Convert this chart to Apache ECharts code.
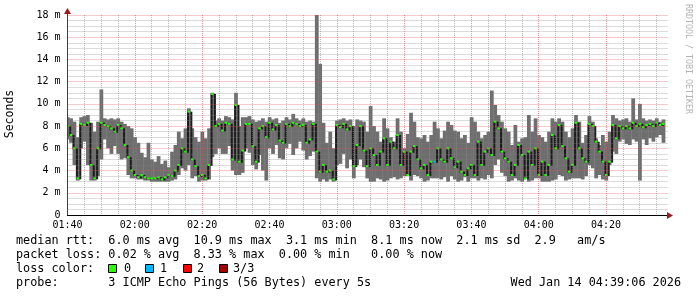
<!DOCTYPE html>
<html><head><meta charset="utf-8">
<script src="https://cdn.jsdelivr.net/npm/echarts@6/dist/echarts.min.js"></script>
<style>html,body{margin:0;padding:0;background:#fff}#c{width:697px;height:297px}</style>
</head><body><div id="c"></div>
<script>
// x tick labels (every 20 minutes from 01:40)
const xTickLabels = ['01:40','02:00','02:20','02:40','03:00','03:20','03:40','04:00','04:20'];
// y tick labels (every 2 ms)
const yTickLabels = ['0','2 m','4 m','6 m','8 m','10 m','12 m','14 m','16 m','18 m'];

// per-minute smoke range (ms) and median (ms), minute 0 = 01:40
const rttHigh = [
 8.8,8.7,8.4,7.0,8.8,8.9,9.0,8.3,7.5,8.4,
 11.3,8.7,8.6,8.7,8.6,8.7,8.4,8.2,8.0,7.8,
 7.0,6.5,5.6,5.2,6.5,5.0,4.8,5.3,4.6,4.9,
 4.3,5.7,6.3,7.5,6.9,7.8,9.6,7.8,7.0,6.6,
 7.5,6.9,7.8,11.0,8.5,8.7,8.5,8.9,8.8,8.6,
 11.0,8.0,8.8,8.8,8.9,8.6,8.4,8.5,8.7,8.4,
 8.8,8.6,8.7,8.3,8.5,8.8,8.6,9.1,8.7,8.5,
 8.7,8.4,8.5,8.4,18.0,13.6,8.3,6.5,7.5,6.0,
 8.5,8.6,8.7,8.5,8.6,8.0,8.6,8.5,8.4,7.5,
 9.8,8.0,7.5,6.6,8.7,7.8,7.0,6.6,8.7,7.5,
 6.0,7.3,9.2,8.4,7.0,6.9,7.2,6.6,7.2,8.4,
 7.8,6.9,7.6,8.4,8.1,7.6,7.5,6.9,7.2,6.5,
 8.8,8.4,7.5,6.9,7.2,7.5,11.2,9.9,9.0,8.4,
 7.8,7.5,6.3,8.1,6.6,6.9,7.0,9.0,7.5,8.7,
 7.2,7.0,6.6,7.5,8.7,8.4,8.7,8.4,7.5,7.0,
 7.8,9.0,8.4,6.5,7.2,8.9,8.4,6.9,6.3,7.2,
 6.6,7.5,9.0,8.7,8.5,8.6,8.7,8.4,10.5,8.6,
 10.0,8.7,8.5,8.6,8.5,8.7,8.4,8.6
];
const rttLow = [
 6.8,6.5,4.5,3.1,6.0,6.6,4.5,3.1,3.1,3.5,
 5.0,6.8,6.0,5.5,6.2,5.5,5.0,5.1,3.6,3.3,
 3.3,3.2,3.2,3.1,3.1,3.0,3.0,3.0,3.0,3.0,
 3.0,3.1,3.2,3.6,4.2,4.0,4.5,3.3,3.5,3.0,
 3.1,3.1,3.2,5.2,5.5,6.0,5.5,5.5,6.2,4.0,
 3.6,3.6,3.8,6.0,5.6,4.5,4.1,5.4,4.0,3.1,
 6.0,5.5,6.3,5.1,5.0,6.0,6.4,5.4,6.0,6.6,
 5.8,5.0,5.3,5.7,3.3,3.0,3.2,3.0,3.2,3.0,
 4.5,4.6,5.5,4.2,5.0,3.3,4.5,5.0,4.3,3.3,
 3.0,3.0,3.3,3.2,3.0,3.1,3.3,3.4,3.2,3.3,
 3.5,3.6,3.1,3.6,3.5,3.3,3.0,3.1,3.3,3.3,
 3.3,3.2,3.4,3.0,3.5,3.2,3.0,3.1,3.4,3.0,
 3.3,3.3,3.1,3.3,3.2,3.6,3.3,4.5,5.0,3.8,
 3.5,3.0,3.1,3.3,3.1,3.0,3.3,3.0,3.1,3.3,
 3.3,3.0,3.0,3.0,3.1,3.2,3.6,3.5,3.1,3.2,
 3.3,3.3,3.3,3.2,3.5,4.5,4.2,3.3,3.6,3.2,
 3.1,4.5,5.7,5.5,6.6,6.8,6.4,6.3,6.8,6.6,
 3.1,6.8,6.3,6.9,6.6,7.0,7.2,6.5
];
const rttMedian = [
 8.0,7.2,6.0,3.3,8.2,8.1,8.3,4.5,3.3,6.0,
 8.3,8.1,8.0,7.8,7.5,8.1,7.8,6.3,5.2,4.0,
 3.6,3.4,3.6,3.4,3.3,3.3,3.3,3.4,3.2,3.4,
 3.6,3.5,4.0,4.5,6.0,5.7,9.3,5.0,4.4,3.5,
 3.6,3.3,4.5,10.9,8.0,8.2,7.6,8.3,8.2,5.0,
 9.9,4.8,5.8,8.2,8.2,6.2,4.8,7.8,8.0,7.0,
 8.3,7.7,8.1,6.7,6.5,8.2,8.0,8.3,8.2,8.0,
 8.1,6.5,6.8,8.2,5.7,3.9,4.5,3.9,4.0,3.2,
 8.1,7.9,8.2,7.7,8.0,4.4,6.3,8.0,5.8,4.4,
 6.0,5.4,4.5,5.7,6.9,4.5,6.6,6.0,7.2,4.5,
 5.7,3.6,5.7,6.2,5.0,4.2,4.5,3.6,4.8,4.8,
 6.0,5.0,4.8,6.0,5.1,4.3,4.8,3.9,3.6,4.2,
 4.5,3.6,6.6,4.5,5.7,6.0,5.4,8.4,7.8,5.7,
 5.1,4.8,3.6,4.5,6.3,5.4,3.3,5.7,4.5,6.0,
 3.6,4.8,3.6,4.5,7.2,6.0,8.1,6.2,5.1,3.9,
 4.5,8.3,6.0,5.1,4.8,8.2,8.0,6.6,5.7,4.8,
 3.6,4.8,8.1,6.9,8.0,7.8,8.0,7.8,8.3,8.0,
 8.2,7.9,8.1,8.2,8.0,8.3,8.1,8.2
];
// [minute index, lost pings]
const lossEvents = [[109, 1]];

const lossColors = ['#26ff00', '#00b8ff', '#ff0000', '#a10000'];
const lossLabels = ['0', '1', '2', '3/3'];

const lossAt = {};
lossEvents.forEach(e => { lossAt[e[0]] = e[1]; });
const smokeData = rttMedian.map((m, i) => [i, rttLow[i], rttHigh[i], m, i > 0 ? rttMedian[i - 1] : m, lossAt[i] || 0]);

const MAJ = 'rgba(220,80,80,0.6)';
const MIN = 'rgba(130,130,130,0.55)';
const MONO = '"DejaVu Sans Mono", monospace';

const chart = echarts.init(document.getElementById('c'), null, {renderer: 'canvas'});

const legendFont = 11.8;
const graphics = [
  {type:'line', z:100, shape:{x1:67.5, y1:13, x2:67.5, y2:215}, style:{stroke:'#404040', lineWidth:1}},
  {type:'polygon', z:101, shape:{points:[[67.5,8],[64,14],[71,14]]}, style:{fill:'#a01818'}},
  {type:'polygon', z:101, shape:{points:[[673,215.5],[667,212],[667,219]]}, style:{fill:'#a01818'}},
  {type:'text', z:100, x:10.5, y:114, rotation:Math.PI/2, style:{text:'Seconds', fill:'#000', fontFamily:MONO, fontSize:11.5, align:'center', verticalAlign:'middle'}},
  {type:'text', z:100, x:688, y:59, rotation:-Math.PI/2, style:{text:'RRDTOOL / TOBI OETIKER', fill:'#b4b4b4', fontFamily:MONO, fontSize:8.3, align:'center', verticalAlign:'middle'}},
  {type:'text', z:100, x:16, y:241, style:{text:'median rtt:  6.0 ms avg  10.9 ms max  3.1 ms min  8.1 ms now  2.1 ms sd  2.9   am/s', fill:'#000', fontFamily:MONO, fontSize:legendFont, verticalAlign:'middle'}},
  {type:'text', z:100, x:16, y:255, style:{text:'packet loss: 0.02 % avg  8.33 % max  0.00 % min   0.00 % now', fill:'#000', fontFamily:MONO, fontSize:legendFont, verticalAlign:'middle'}},
  {type:'text', z:100, x:16, y:269, style:{text:'loss color:', fill:'#000', fontFamily:MONO, fontSize:legendFont, verticalAlign:'middle'}},
  {type:'text', z:100, x:16, y:283, style:{text:'probe:       3 ICMP Echo Pings (56 Bytes) every 5s', fill:'#000', fontFamily:MONO, fontSize:legendFont, verticalAlign:'middle'}},
  {type:'text', z:100, x:681, y:283, style:{text:'Wed Jan 14 04:39:06 2026', fill:'#000', fontFamily:MONO, fontSize:legendFont, align:'right', verticalAlign:'middle'}}
];
const boxX = [108.5, 145.5, 183.5, 219.5];
const boxLabelX = [124, 160, 197, 233];
lossLabels.forEach((lab, k) => {
  graphics.push({type:'rect', z:100, shape:{x:boxX[k], y:264.5, width:8, height:8}, style:{fill:lossColors[k], stroke:'#000', lineWidth:1}});
  graphics.push({type:'text', z:100, x:boxLabelX[k], y:269, style:{text:lab, fill:'#000', fontFamily:MONO, fontSize:legendFont, verticalAlign:'middle'}});
});

chart.setOption({
  animation: false,
  backgroundColor: '#fff',
  grid: {left: 67.5, right: 29, top: 15, bottom: 82, containLabel: false, outerBoundsMode: 'none'},
  xAxis: {
    type: 'value', min: 0, max: 178.4, interval: 5, z: 5,
    axisLine: {show: true, onZero: false, lineStyle: {color: '#000', width: 1}},
    axisTick: {show: false},
    axisLabel: {margin: 5, fontFamily: MONO, fontSize: 10, color: '#000', showMaxLabel: false,
      formatter: v => (v % 20 === 0 ? (xTickLabels[v / 20] || '') : '')},
    splitLine: {show: true, showMaxLine: false, lineStyle: {type: [1, 1], width: 1, color: [MAJ, MIN, MIN, MIN]}}
  },
  yAxis: {
    type: 'value', min: 0, max: 18, interval: 0.5, z: 5,
    axisLine: {show: false}, axisTick: {show: false},
    axisLabel: {margin: 7, fontFamily: MONO, fontSize: 10, color: '#000',
      formatter: v => (v % 2 === 0 ? (yTickLabels[v / 2] || '') : '')},
    splitLine: {show: true, lineStyle: {type: [1, 1], width: 1, color: [MAJ, MIN, MIN, MIN]}}
  },
  series: [
    {type: 'custom', z: 2, silent: true, clip: true, data: smokeData,
      renderItem: (p, api) => {
        const t = api.value(0);
        const a = api.coord([t - 0.5, api.value(2)]);
        const b = api.coord([t + 0.5, api.value(1)]);
        return {type: 'rect', shape: {x: a[0], y: a[1], width: b[0] - a[0] + 0.4, height: b[1] - a[1]}, style: {fill: '#6e6e6e'}};
      }},
    {type: 'custom', z: 3, silent: true, clip: true, data: smokeData,
      renderItem: (p, api) => {
        const t = api.value(0);
        const m = api.coord([t - 0.5, api.value(3)]);
        const q = api.coord([t - 0.5, api.value(4)]);
        const y0 = Math.min(m[1], q[1]);
        return {type: 'rect', shape: {x: m[0], y: y0, width: 2, height: Math.abs(m[1] - q[1]) + 1}, style: {fill: '#1c1c1c'}};
      }},
    {type: 'custom', z: 4, silent: true, clip: true, data: smokeData,
      renderItem: (p, api) => {
        const t = api.value(0);
        const a = api.coord([t - 0.5, api.value(3)]);
        const b = api.coord([t + 0.5, api.value(3)]);
        const cx = (a[0] + b[0]) / 2;
        return {type: 'rect', shape: {x: cx - 1.2, y: a[1] - 1, width: 2.4, height: 2}, style: {fill: lossColors[api.value(5)]}};
      }}
  ],
  graphic: graphics
});
</script>
</body></html>
